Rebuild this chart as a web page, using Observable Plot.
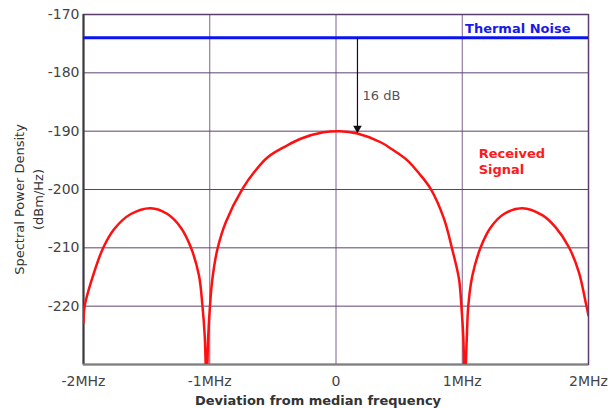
<!DOCTYPE html>
<html>
<head>
<meta charset="utf-8">
<script src="https://cdn.jsdelivr.net/npm/d3@7"></script>
<script src="https://cdn.jsdelivr.net/npm/@observablehq/plot@0.6"></script>
<style>
  html, body { margin: 0; padding: 0; background: #fff; }
  #chart svg { display: block; }
</style>
</head>
<body>
<div id="chart"></div>
<script>
// Deviation from median frequency (MHz) and received signal PSD (dBm/Hz)
const freqMHz = [
  -2.0, -1.99, -1.916, -1.842, -1.758, -1.625, -1.467, -1.335, -1.23, -1.15,
  -1.085, -1.058, -1.04, -1.025, -1.013, -0.998, -0.979, -0.939, -0.873, -0.741,
  -0.64, -0.543, -0.4, -0.28, -0.1, 0.03, 0.17, 0.354, 0.45, 0.565,
  0.66, 0.75, 0.855, 0.92, 0.974, 0.993, 1.009, 1.02, 1.035, 1.048,
  1.08, 1.146, 1.225, 1.33, 1.476, 1.634, 1.74, 1.845, 1.924, 1.983, 2.0
];
const signalDbm = [
  -222.8, -219.9, -214.2, -209.9, -206.8, -204.2, -203.2, -204.2, -206.5, -209.9,
  -214.8, -219.9, -225.0, -234.0, -225.6, -219.9, -215.3, -210.2, -205.6, -199.9,
  -196.8, -194.5, -192.6, -191.3, -190.2, -190.0, -190.4, -191.9, -193.2, -195.0,
  -197.3, -199.9, -205.0, -210.2, -215.3, -219.9, -225.6, -234.0, -226.0, -219.9,
  -214.8, -209.9, -206.5, -204.2, -203.2, -204.4, -206.5, -209.9, -214.2, -219.9, -221.6
];
const thermalNoise = [-174];
const yTicks = [-170, -180, -190, -200, -210, -220];
const xTicks = [-2, -1, 0, 1, 2];
const xTickLabels = ["-2MHz", "-1MHz", "0", "1MHz", "2MHz"];
const gapArrow = {x: 0.17, from: -174, to: -190, label: "16 dB", labelY: -184};
const noiseLabel = ["Thermal Noise"];
const signalLabel = ["Received", "Signal"];
const signalLabelPos = {x: 1.13, y: [-193.8, -196.7]};
const xTitle = "Deviation from median frequency";
const yTitle = ["Spectral Power Density", "(dBm/Hz)"];

const signal = freqMHz.map((f, i) => ({f, p: signalDbm[i]}));

const chart = Plot.plot({
  width: 608,
  height: 408,
  marginLeft: 83,
  marginRight: 20,
  marginTop: 14,
  marginBottom: 44,
  style: {fontFamily: "DejaVu Sans", background: "#fff"},
  x: {domain: [-2, 2]},
  y: {domain: [-230, -170]},
  marks: [
    Plot.ruleX(xTicks, {stroke: "#7d6090", strokeWidth: 1}),
    Plot.ruleY(yTicks, {stroke: "#5e4070", strokeWidth: 1}),
    Plot.frame({stroke: "#5a3d6a", strokeWidth: 1.5}),
    Plot.ruleX([-2], {stroke: "#3a3a3a", strokeWidth: 2}),
    Plot.ruleY([-230], {stroke: "#808080", strokeWidth: 2}),
    Plot.ruleY(thermalNoise, {stroke: "#0a14f0", strokeWidth: 3}),
    Plot.line(signal, {x: "f", y: "p", stroke: "#ff1010", strokeWidth: 2.5, curve: "catmull-rom", clip: true}),
    Plot.link([gapArrow], {x1: "x", x2: "x", y1: "from", y2: "to", stroke: "#111", strokeWidth: 1.2}),
    Plot.dot([gapArrow], {x: "x", y: "to", symbol: "triangle", r: 3.2, fill: "#111", rotate: 180, dy: -3}),
    Plot.text([gapArrow], {x: "x", y: "labelY", text: "label", textAnchor: "start", dx: 5, fontSize: 13, fill: "#555"}),
    Plot.text(noiseLabel, {x: 2, y: thermalNoise[0], text: d => d, textAnchor: "end", dx: -18, dy: -9, fontSize: 13, fontWeight: "bold", fill: "#1a1ae6"}),
    Plot.text(signalLabel, {x: () => signalLabelPos.x, y: (d, i) => signalLabelPos.y[i], text: d => d, textAnchor: "start", fontSize: 13, fontWeight: "bold", fill: "#ff1a1a"}),
    Plot.axisY(yTicks, {tickSize: 0, tickPadding: 4, fontSize: 14, fill: "#444", tickFormat: d => String(d), label: null}),
    Plot.axisX(xTicks, {tickSize: 0, tickPadding: 12, fontSize: 14, fill: "#444", tickFormat: d => xTickLabels[xTicks.indexOf(d)], label: null}),
    Plot.text([xTitle], {frameAnchor: "bottom", dy: 40, dx: -18, text: d => d, fontSize: 13, fontWeight: "bold", fill: "#333"}),
    Plot.text([yTitle[0]], {frameAnchor: "left", textAnchor: "middle", rotate: -90, dx: -64, dy: 10, text: d => d, fontSize: 13, fill: "#333"}),
    Plot.text([yTitle[1]], {frameAnchor: "left", textAnchor: "middle", rotate: -90, dx: -45, dy: 10, text: d => d, fontSize: 13, fill: "#333"})
  ]
});
document.getElementById("chart").appendChild(chart);
</script>
</body>
</html>
